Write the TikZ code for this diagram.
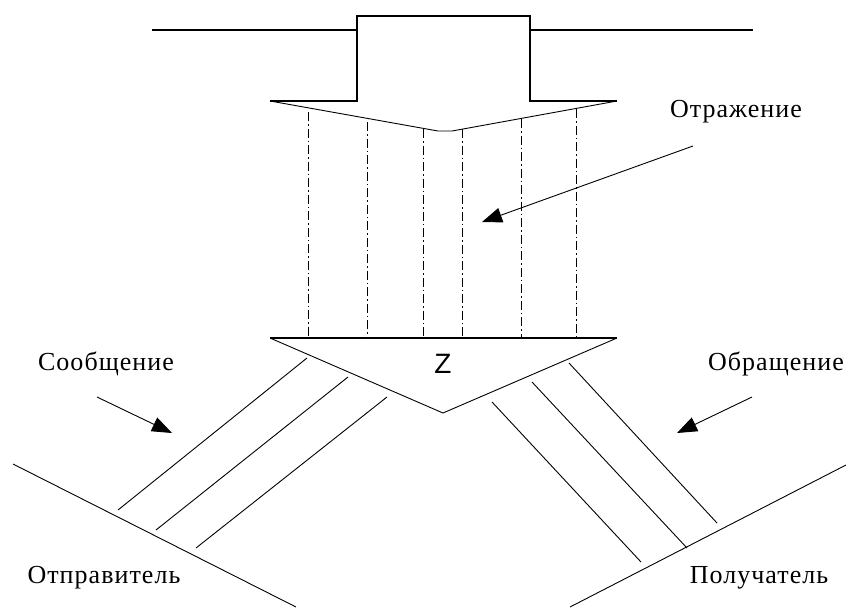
\documentclass[tikz,border=0pt]{standalone}
\usepackage{fontspec}
\setmainfont{Liberation Serif}
\newfontfamily\labelfont[LetterSpace=4]{Liberation Serif}
\newfontfamily\zfont{Liberation Sans}
\usetikzlibrary{arrows.meta}
\tikzset{
  thin line/.style={line width=0.9pt},
  thick line/.style={line width=1.6pt},
  ray/.style={line width=0.9pt, dash pattern=on 9pt off 3pt on 1.5pt off 3pt},
  pointer/.style={line width=0.9pt, -{Triangle[length=20pt,width=15pt]}},
  caption/.style={font=\labelfont\fontsize{26}{26}\selectfont, inner sep=0pt},
}
\begin{document}
\begin{tikzpicture}[x=1pt,y=-1pt]
\useasboundingbox (0,0) rectangle (848,608);

% top line with the raised block
\draw[thick line] (152,30) -- (357,30) (530,30) -- (753,30);
\draw[thick line] (270,101) -- (357,101) -- (357,16) -- (530,16) -- (530,101) -- (617,101);
% upper V edge of the top arrow
\draw[thin line] (270,101) -- (438,131) -- (452,131) -- (617,101);

% lower arrow (triangle)
\draw[thick line] (270,338) -- (617,338);
\draw[thin line] (270,338) -- (443,413) -- (617,338);
\node[font=\zfont\fontsize{28}{28}\selectfont, inner sep=0pt] (z) at (443,364) {Z};

% dash-dot rays between the two arrows
\foreach \x/\y in {308/112, 367/122, 423/129, 462/129, 521/119, 576/109}
  \draw[ray] (\x,\y) -- (\x,338);

% sender and receiver baselines
\draw[thin line] (13,464) -- (296,607);
\draw[thin line] (570,607) -- (846,465);

% left bundle
\draw[thin line] (307,358) -- (118,510);
\draw[thin line] (348,377) -- (156,530);
\draw[thin line] (387,397) -- (196,548);

% right bundle
\draw[thin line] (492,402) -- (641,562);
\draw[thin line] (532,382) -- (687,548);
\draw[thin line] (569,363) -- (717,523);

% labels
\node[caption] (refl) at (736,112) {Отражение};
\node[caption] (msg)  at (106,364) {Сообщение};
\node[caption] (rev)  at (776,364) {Обращение};
\node[caption] (snd)  at (104,578) {Отправитель};
\node[caption] (rcv)  at (759,578) {Получатель};

% pointers
\coordinate (reflA) at (693,146);
\coordinate (reflB) at (482,222);
\coordinate (msgA) at (97,397);
\coordinate (msgB) at (172,433);
\coordinate (revA) at (752,397);
\coordinate (revB) at (677,433);
\draw[pointer] (reflA) -- (reflB);
\draw[pointer] (msgA) -- (msgB);
\draw[pointer] (revA) -- (revB);
\end{tikzpicture}
\end{document}
